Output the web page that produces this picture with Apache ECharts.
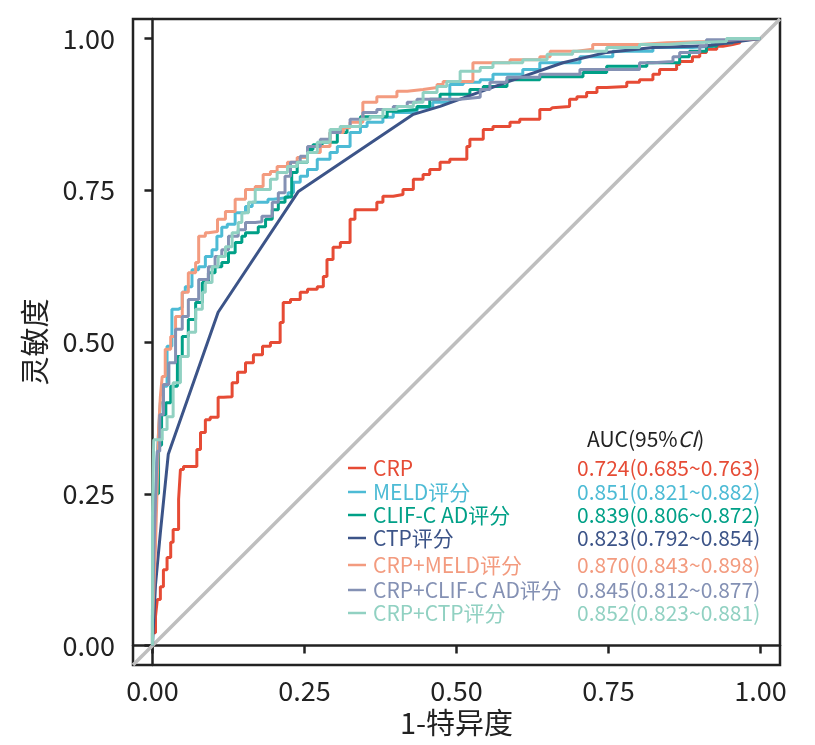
<!DOCTYPE html>
<html>
<head>
<meta charset="utf-8">
<script src="https://cdn.jsdelivr.net/npm/echarts@6/dist/echarts.min.js"></script>
<style>
html, body { margin: 0; padding: 0; background: #fff; }
#chart { width: 815px; height: 745px; }
</style>
</head>
<body>
<div id="chart"></div>
<script>
var names = ['CRP', 'MELD评分', 'CLIF-C AD评分', 'CTP评分', 'CRP+MELD评分', 'CRP+CLIF-C AD评分', 'CRP+CTP评分'];
var colors = ['#E64B35', '#4DBBD5', '#00A087', '#3C5488', '#F39B7F', '#8491B4', '#91D1C2'];
var aucText = [
    '0.724(0.685~0.763)',
    '0.851(0.821~0.882)',
    '0.839(0.806~0.872)',
    '0.823(0.792~0.854)',
    '0.870(0.843~0.898)',
    '0.845(0.812~0.877)',
    '0.852(0.823~0.881)'
];
var tickValues = [0, 0.25, 0.5, 0.75, 1];

// [1-特异度, 灵敏度]
var crp = [[0,0],[0.005,0.021],[0.008,0.048],[0.013,0.076],[0.018,0.097],[0.024,0.125],[0.030,0.145],[0.034,0.170],[0.043,0.191],[0.046,0.241],[0.051,0.290],[0.054,0.295],[0.073,0.295],[0.079,0.323],[0.087,0.351],[0.095,0.372],[0.108,0.376],[0.117,0.409],[0.131,0.410],[0.140,0.433],[0.153,0.450],[0.166,0.466],[0.181,0.479],[0.194,0.493],[0.210,0.499],[0.215,0.532],[0.227,0.565],[0.243,0.570],[0.255,0.582],[0.271,0.587],[0.281,0.591],[0.287,0.608],[0.297,0.636],[0.309,0.656],[0.325,0.664],[0.333,0.702],[0.345,0.718],[0.369,0.718],[0.379,0.730],[0.396,0.740],[0.412,0.743],[0.429,0.751],[0.445,0.768],[0.456,0.776],[0.473,0.784],[0.489,0.796],[0.517,0.801],[0.522,0.822],[0.544,0.834],[0.560,0.850],[0.588,0.855],[0.604,0.862],[0.637,0.867],[0.654,0.883],[0.658,0.886],[0.686,0.888],[0.698,0.900],[0.714,0.904],[0.731,0.911],[0.747,0.919],[0.780,0.921],[0.801,0.928],[0.823,0.932],[0.834,0.941],[0.862,0.949],[0.867,0.957],[0.888,0.962],[0.900,0.970],[0.911,0.977],[0.928,0.982],[0.938,0.987],[0.954,0.990],[0.966,0.993],[1,1]];
var meld = [[0,0],[0.002,0.05],[0.005,0.12],[0.007,0.22],[0.010,0.30],[0.013,0.35],[0.018,0.40],[0.024,0.427],[0.032,0.493],[0.043,0.554],[0.049,0.557],[0.054,0.582],[0.065,0.591],[0.076,0.619],[0.087,0.624],[0.098,0.641],[0.106,0.652],[0.114,0.674],[0.123,0.689],[0.136,0.694],[0.153,0.713],[0.164,0.723],[0.190,0.730],[0.199,0.735],[0.223,0.738],[0.232,0.746],[0.243,0.763],[0.255,0.773],[0.271,0.784],[0.292,0.801],[0.304,0.812],[0.325,0.822],[0.342,0.845],[0.353,0.855],[0.379,0.862],[0.396,0.870],[0.435,0.878],[0.461,0.886],[0.489,0.895],[0.511,0.924],[0.539,0.928],[0.560,0.932],[0.609,0.941],[0.637,0.949],[0.703,0.960],[0.757,0.970],[0.823,0.979],[0.888,0.985],[0.921,0.987],[0.954,0.993],[0.977,0.998],[1,1]];
var clif = [[0,0],[0.003,0.06],[0.006,0.15],[0.010,0.25],[0.015,0.33],[0.022,0.38],[0.030,0.40],[0.041,0.427],[0.049,0.476],[0.059,0.509],[0.071,0.537],[0.082,0.565],[0.092,0.598],[0.103,0.614],[0.114,0.624],[0.125,0.631],[0.136,0.647],[0.147,0.664],[0.153,0.674],[0.174,0.680],[0.186,0.690],[0.197,0.702],[0.207,0.718],[0.218,0.730],[0.229,0.739],[0.238,0.779],[0.255,0.796],[0.264,0.817],[0.279,0.825],[0.304,0.829],[0.320,0.845],[0.342,0.855],[0.358,0.871],[0.386,0.871],[0.402,0.880],[0.435,0.883],[0.456,0.888],[0.473,0.900],[0.522,0.908],[0.544,0.916],[0.583,0.921],[0.637,0.932],[0.708,0.937],[0.747,0.944],[0.813,0.954],[0.867,0.960],[0.883,0.970],[0.911,0.979],[0.928,0.987],[0.954,0.993],[1,1]];
var ctp = [[0,0],[0.005,0.10],[0.013,0.186],[0.026,0.315],[0.108,0.549],[0.240,0.748],[0.429,0.875],[0.473,0.888],[0.583,0.928],[0.675,0.960],[0.747,0.977],[0.823,0.985],[0.911,0.988],[1,1]];
var crpMeld = [[0,0],[0.002,0.04],[0.005,0.087],[0.008,0.163],[0.010,0.273],[0.013,0.356],[0.016,0.410],[0.021,0.443],[0.030,0.488],[0.038,0.509],[0.049,0.542],[0.059,0.582],[0.071,0.614],[0.076,0.631],[0.087,0.674],[0.092,0.680],[0.107,0.682],[0.120,0.702],[0.136,0.715],[0.153,0.735],[0.169,0.751],[0.182,0.756],[0.194,0.776],[0.205,0.781],[0.222,0.789],[0.238,0.796],[0.255,0.804],[0.276,0.812],[0.292,0.822],[0.314,0.845],[0.325,0.853],[0.346,0.862],[0.369,0.895],[0.402,0.904],[0.419,0.913],[0.445,0.916],[0.468,0.919],[0.478,0.924],[0.506,0.929],[0.527,0.929],[0.588,0.960],[0.637,0.965],[0.654,0.970],[0.698,0.979],[0.724,0.982],[0.801,0.990],[0.846,0.993],[0.911,0.995],[0.954,0.998],[1,1]];
var crpClif = [[0,0],[0.002,0.05],[0.005,0.14],[0.008,0.24],[0.012,0.32],[0.018,0.38],[0.027,0.43],[0.038,0.466],[0.049,0.521],[0.059,0.542],[0.076,0.570],[0.092,0.603],[0.103,0.624],[0.114,0.641],[0.125,0.652],[0.141,0.674],[0.153,0.685],[0.169,0.697],[0.180,0.698],[0.197,0.707],[0.207,0.730],[0.218,0.746],[0.227,0.773],[0.243,0.796],[0.255,0.806],[0.276,0.822],[0.292,0.834],[0.309,0.845],[0.325,0.855],[0.346,0.867],[0.369,0.878],[0.396,0.883],[0.419,0.888],[0.435,0.895],[0.468,0.900],[0.506,0.900],[0.539,0.903],[0.555,0.916],[0.583,0.928],[0.637,0.936],[0.703,0.941],[0.801,0.949],[0.823,0.960],[0.856,0.962],[0.867,0.970],[0.900,0.977],[0.911,0.987],[0.954,0.998],[1,1]];
var crpCtp = [[0,0],[0,0.087],[0.002,0.213],[0.016,0.339],[0.024,0.356],[0.034,0.377],[0.046,0.433],[0.059,0.476],[0.071,0.516],[0.082,0.554],[0.087,0.582],[0.098,0.598],[0.108,0.624],[0.120,0.641],[0.131,0.657],[0.141,0.680],[0.147,0.697],[0.158,0.713],[0.169,0.730],[0.181,0.751],[0.194,0.751],[0.205,0.768],[0.222,0.779],[0.238,0.789],[0.255,0.796],[0.271,0.812],[0.292,0.829],[0.309,0.850],[0.342,0.855],[0.358,0.867],[0.379,0.871],[0.402,0.883],[0.429,0.888],[0.445,0.895],[0.468,0.911],[0.484,0.921],[0.506,0.929],[0.539,0.946],[0.560,0.952],[0.609,0.960],[0.649,0.965],[0.691,0.974],[0.747,0.979],[0.801,0.985],[0.846,0.990],[0.888,0.993],[0.944,0.995],[0.977,1.0],[1,1]];

var curves = [crp, meld, clif, ctp, crpMeld, crpClif, crpCtp];
var axisMin = -0.032, axisMax = 1.032;

var font = '"Noto Sans CJK SC", "Noto Sans", sans-serif';
var myChart = echarts.init(document.getElementById('chart'), null, { renderer: 'canvas' });

var series = [{
    type: 'line',
    name: 'ref',
    data: [[axisMin, axisMin], [axisMax, axisMax]],
    symbol: 'none',
    silent: true,
    z: 1,
    lineStyle: { color: '#BEBEBE', width: 3.5 }
}];
for (var i = 0; i < curves.length; i++) {
    series.push({
        type: 'line',
        name: names[i],
        data: curves[i],
        step: i == 3 ? false : 'start',
        symbol: 'none',
        z: 2 + i,
        lineStyle: { color: colors[i], width: 3 }
    });
}

// legend block drawn by hand: label column + AUC column
var legendY = [468, 492, 515, 538, 565, 590, 613];
var graphic = [{
    type: 'text',
    x: 587,
    y: 439,
    style: {
        text: 'AUC(95%{i|CI})',
        font: '21px ' + font,
        fill: '#222',
        verticalAlign: 'middle',
        rich: { i: { fontStyle: 'italic', fontSize: 21, fontFamily: font, fill: '#222' } }
    }
}];
for (var i = 0; i < names.length; i++) {
    graphic.push({
        type: 'line',
        shape: { x1: 348, y1: legendY[i], x2: 366, y2: legendY[i] },
        style: { stroke: colors[i], lineWidth: 2.5 }
    });
    graphic.push({
        type: 'text',
        x: 373,
        y: legendY[i],
        style: { text: names[i], font: '21px ' + font, fill: colors[i], verticalAlign: 'middle' }
    });
    graphic.push({
        type: 'text',
        x: 577,
        y: legendY[i],
        style: { text: aucText[i], font: '21px ' + font, fill: colors[i], verticalAlign: 'middle' }
    });
}

var axisCommon = {
    type: 'value',
    min: axisMin,
    max: axisMax,
    nameLocation: 'middle',
    nameTextStyle: { fontSize: 29, color: '#222', fontFamily: font },
    axisLine: { show: true, lineStyle: { color: '#222', width: 2.5 } },
    axisTick: { show: true, customValues: tickValues, length: 8, lineStyle: { color: '#222', width: 2.5 } },
    axisLabel: {
        customValues: tickValues,
        fontSize: 27,
        color: '#222',
        fontFamily: font,
        formatter: function(v) { return v.toFixed(2); }
    },
    splitLine: { show: false }
};

var option = {
    animation: false,
    backgroundColor: '#fff',
    grid: {
        left: 133, right: 35, top: 19, bottom: 80,
        show: true, borderColor: '#222', borderWidth: 2.5, backgroundColor: 'transparent'
    },
    xAxis: Object.assign({}, axisCommon, {
        name: '1-特异度',
        nameGap: 41,
        axisLabel: Object.assign({}, axisCommon.axisLabel, { margin: 12 })
    }),
    yAxis: Object.assign({}, axisCommon, {
        name: '灵敏度',
        nameGap: 84,
        axisLabel: Object.assign({}, axisCommon.axisLabel, { margin: 18 })
    }),
    series: series,
    graphic: graphic
};

myChart.setOption(option);
</script>
</body>
</html>
